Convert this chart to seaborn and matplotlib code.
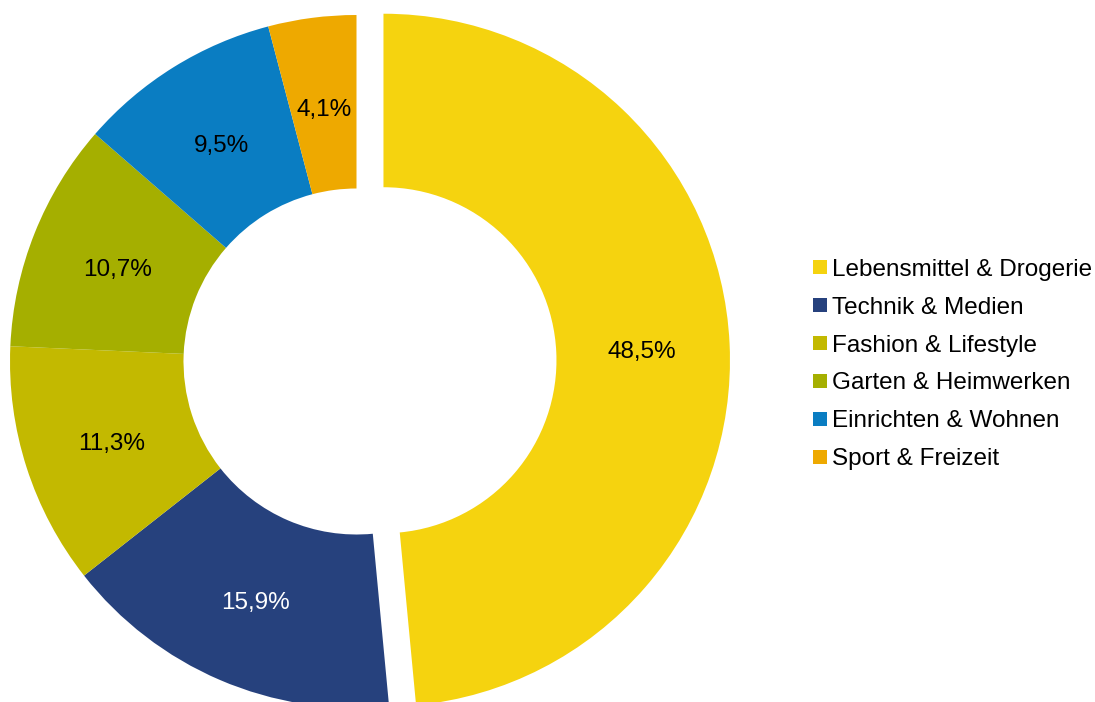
import matplotlib
matplotlib.use("Agg")
import matplotlib.pyplot as plt
from matplotlib.lines import Line2D
import seaborn as sns

# Umsatzanteile nach Sortimentsbereich
categories = [
    "Lebensmittel & Drogerie",
    "Technik & Medien",
    "Fashion & Lifestyle",
    "Garten & Heimwerken",
    "Einrichten & Wohnen",
    "Sport & Freizeit",
]
shares = [48.5, 15.9, 11.3, 10.7, 9.5, 4.1]
colors = ["#F5D30F", "#26417D", "#C3B900", "#A5AF00", "#0A7DC2", "#EEA900"]

sns.set_theme(style="white")
plt.rcParams["font.family"] = ["Liberation Sans", "DejaVu Sans"]
plt.rcParams["text.color"] = "black"

W, H = 1095, 702
fig = plt.figure(figsize=(W / 100, H / 100), dpi=100)
ax = fig.add_axes([0, 0, 1, 1])

R = 346.5
R_inner = 173
cx, cy = 356.5, H - 361.5

wedges, texts, autotexts = ax.pie(
    shares,
    colors=colors,
    startangle=90,
    counterclock=False,
    radius=R,
    center=(cx, cy),
    explode=[27, 0, 0, 0, 0, 0],
    wedgeprops=dict(width=R - R_inner, linewidth=0),
    autopct=lambda p: f"{p:.1f}%".replace(".", ","),
    pctdistance=258 / R,
    textprops=dict(fontsize=17.5, color="black"),
)
autotexts[1].set_color("white")
# centre the percentage labels on the digits rather than on the full glyph box
for t in autotexts:
    x, y = t.get_position()
    t.set_position((x + 1, y - 4))

ax.set_xlim(0, W)
ax.set_ylim(0, H)
ax.set_aspect("equal")
ax.axis("off")

handles = [
    Line2D([], [], marker="s", linestyle="none", markersize=9.5,
           markerfacecolor=c, markeredgewidth=0)
    for c in colors
]
fig.legend(
    handles, categories,
    loc="center left",
    bbox_to_anchor=(813 / W, 1 - 364.5 / H),
    frameon=False,
    fontsize=17.5,
    handlelength=0.55,
    handletextpad=0.22,
    labelspacing=0.65,
    borderaxespad=0,
    borderpad=0,
)

fig.savefig("out.png", dpi=100)
